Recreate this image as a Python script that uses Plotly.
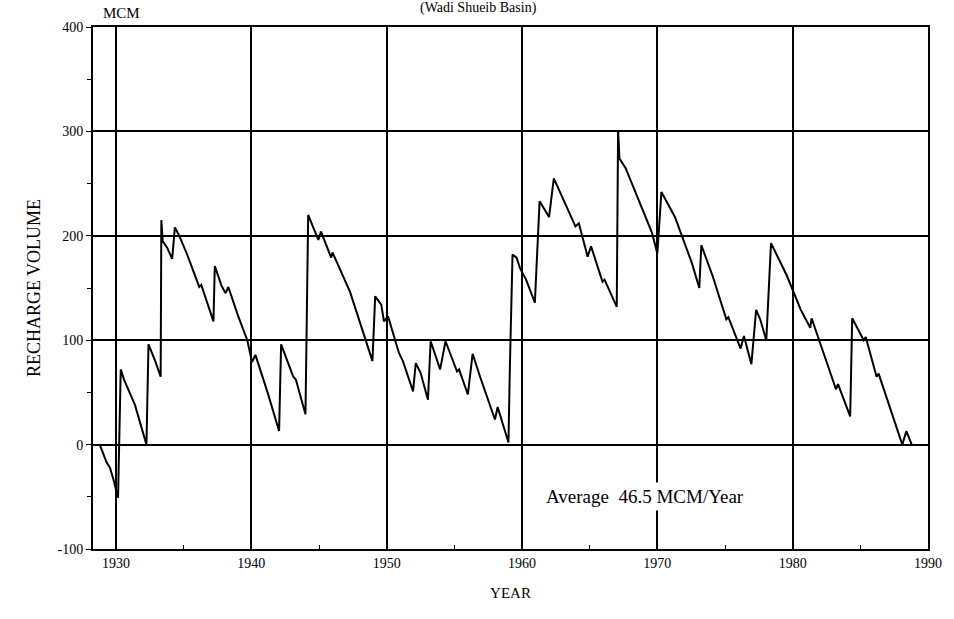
import plotly.graph_objects as go

years = [1928.8, 1929.3, 1929.55, 1929.8, 1930.15, 1930.35, 1930.6, 1931.4, 1932.25, 1932.4,
         1932.9, 1933.3, 1933.35, 1933.45, 1933.8, 1934.15, 1934.35, 1934.6, 1935.2, 1935.8,
         1936.15, 1936.3, 1937.2, 1937.3, 1937.8, 1938.1, 1938.3, 1939.0, 1939.7, 1940.05,
         1940.3, 1941.2, 1942.05, 1942.2, 1943.1, 1943.3, 1944.0, 1944.2, 1944.95, 1945.15,
         1945.9, 1946.0, 1947.15, 1947.3, 1948.95, 1949.15, 1949.6, 1949.8, 1950.1, 1950.9,
         1951.2, 1951.95, 1952.15, 1952.5, 1953.05, 1953.25, 1953.95, 1954.35, 1955.2, 1955.35,
         1956.0, 1956.35, 1956.9, 1958.0, 1958.2, 1959.0, 1959.1, 1959.3, 1959.6, 1959.85,
         1960.3, 1960.95, 1961.3, 1961.65, 1962.0, 1962.35, 1962.9, 1963.5, 1963.95, 1964.2,
         1964.85, 1965.1, 1965.95, 1966.1, 1967.0, 1967.1, 1967.2, 1967.65, 1968.4, 1968.9,
         1969.6, 1970.0, 1970.3, 1971.3, 1972.05, 1972.55, 1973.1, 1973.25, 1974.1, 1975.1,
         1975.25, 1975.95, 1976.15, 1976.4, 1976.95, 1977.3, 1977.6, 1978.05, 1978.4, 1979.0,
         1979.6, 1980.6, 1981.3, 1981.4, 1983.2, 1983.35, 1984.25, 1984.4, 1985.25, 1985.4,
         1986.2, 1986.35, 1987.9, 1988.1, 1988.4, 1988.8]
recharge = [0, -17, -22, -33, -51, 72, 62, 38, 0, 96,
            80, 65, 215, 195, 188, 178, 208, 202, 184, 162,
            151, 153, 118, 171, 152, 145, 151, 124, 100, 79,
            86, 50, 13, 96, 65, 62, 29, 220, 196, 204,
            179, 184, 151, 146, 80, 142, 134, 118, 123, 88,
            80, 51, 78, 69, 43, 99, 72, 99, 70, 72,
            48, 87, 65, 24, 36, 2, 72, 182, 179, 169,
            158, 136, 233, 226, 218, 255, 239, 222, 209, 212,
            180, 190, 156, 158, 132, 301, 274, 265, 241, 225,
            203, 183, 242, 218, 191, 174, 150, 191, 161, 120,
            122, 100, 92, 104, 77, 129, 120, 100, 193, 177,
            161, 129, 112, 121, 53, 58, 27, 121, 100, 103,
            65, 68, 6, 0, 13, 0]

x_ticks = [1930, 1940, 1950, 1960, 1970, 1980, 1990]
y_ticks = [-100, 0, 100, 200, 300, 400]

FONT = "Liberation Serif, DejaVu Serif, serif"
W, H = 954, 619
ML, MR, MT, MB = 93, 22, 27, 70
PW, PH = W - ML - MR, H - MT - MB

fig = go.Figure()
fig.add_trace(go.Scatter(x=years, y=recharge, mode="lines",
                         line=dict(color="black", width=2), showlegend=False,
                         hoverinfo="skip"))

fig.update_layout(
    width=W, height=H,
    margin=dict(l=ML, r=MR, t=MT, b=MB),
    paper_bgcolor="white", plot_bgcolor="white",
    font=dict(family=FONT, size=14, color="black"),
    xaxis=dict(range=[1928.3, 1990], tickvals=x_ticks, ticktext=[str(v) for v in x_ticks],
               showgrid=True, gridcolor="black", gridwidth=2,
               showline=True, linecolor="black", linewidth=2, mirror=True,
               ticks="", zeroline=False,
               minor=dict(tickvals=[1935, 1945, 1955, 1965, 1975, 1985], ticks="inside",
                          ticklen=4, tickcolor="black", showgrid=False),
               title=dict(text="YEAR", font=dict(family=FONT, size=15), standoff=18),
               tickfont=dict(family=FONT, size=14)),
    yaxis=dict(range=[-100, 400], tickvals=y_ticks, ticktext=[str(v) for v in y_ticks],
               showgrid=True, gridcolor="black", gridwidth=2,
               showline=True, linecolor="black", linewidth=2, mirror=True,
               ticks="outside", ticklen=5, tickcolor="black", zeroline=False,
               minor=dict(tickvals=[-50, 50, 150, 250, 350], ticks="outside",
                          ticklen=4, tickcolor="black", showgrid=False),
               title=dict(text="RECHARGE VOLUME", font=dict(family=FONT, size=18), standoff=12),
               tickfont=dict(family=FONT, size=14)),
    annotations=[
        dict(x=1969.1, y=-50, xref="x", yref="y", text="Average  46.5 MCM/Year",
             showarrow=False, bgcolor="white", borderpad=3,
             font=dict(family=FONT, size=19)),
        dict(x=(122 - ML) / PW, y=1 + (MT - 13) / PH, xref="paper", yref="paper",
             text="MCM", showarrow=False, yanchor="middle", xanchor="center",
             font=dict(family=FONT, size=15)),
        dict(x=(480 - ML) / PW, y=1 + (MT - 8) / PH, xref="paper", yref="paper",
             text="(Wadi Shueib Basin)", showarrow=False, yanchor="middle",
             xanchor="center", font=dict(family=FONT, size=14)),
    ],
)

fig.write_html("out.html")
